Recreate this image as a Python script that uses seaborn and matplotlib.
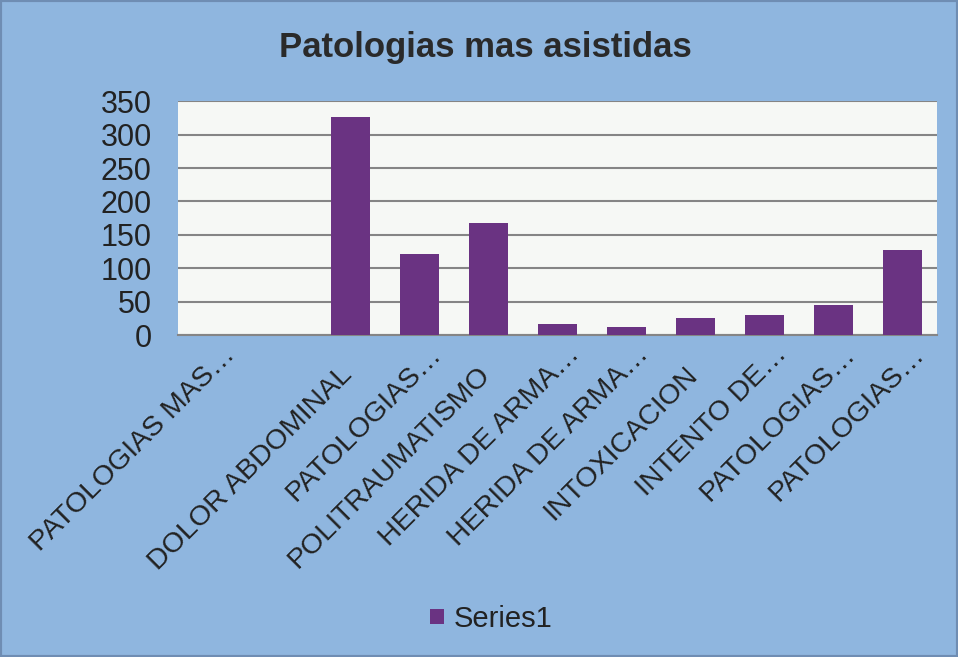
import matplotlib
matplotlib.use("Agg")
import matplotlib.pyplot as plt
import matplotlib.transforms as mtransforms
import seaborn as sns
import pandas as pd
from matplotlib.patches import Patch, Rectangle

categories = ["PATOLOGIAS MAS…", "", "DOLOR ABDOMINAL", "PATOLOGIAS…", "POLITRAUMATISMO",
              "HERIDA DE ARMA…", "HERIDA DE ARMA…", "INTOXICACION", "INTENTO DE…",
              "PATOLOGIAS…", "PATOLOGIAS…"]
values = [0, 0, 326, 121, 167, 16, 12, 25, 30, 45, 127]
y_ticks = [0, 50, 100, 150, 200, 250, 300, 350]
series_name = "Series1"
title = "Patologias mas asistidas"

bg = "#8fb6df"
bar_color = "#6a3382"
label_size = 20.5

sns.set_theme(style="white")
plt.rcParams["font.family"] = ["Liberation Sans", "DejaVu Sans"]

df = pd.DataFrame({"idx": list(range(len(categories))), "value": values})

fig = plt.figure(figsize=(9.58, 6.57), dpi=100, facecolor=bg)
ax = fig.add_axes([0.186, 0.490, 0.792, 0.356])
ax.set_facecolor("#f6f8f5")

sns.barplot(data=df, x="idx", y="value", color=bar_color, width=0.57,
            saturation=1, linewidth=0, ax=ax, zorder=3)

ax.set_xlim(-0.5, len(categories) - 0.5)
ax.set_ylim(0, 350)
ax.set_yticks(y_ticks)
ax.set_yticklabels([str(t) for t in y_ticks], fontsize=22, color="#222222")
ax.set_xticks(range(len(categories)))
ax.set_xticklabels(categories, rotation=45, ha="right", rotation_mode="anchor",
                   fontsize=label_size, color="#222222")
ax.tick_params(axis="y", length=0, pad=19)
ax.tick_params(axis="x", length=0, pad=19)
ax.set_xlabel("")
ax.set_ylabel("")
ax.yaxis.grid(True, color="#858585", linewidth=1.5, zorder=0)
ax.set_axisbelow(True)
for s in ["top", "left", "right"]:
    ax.spines[s].set_visible(False)
ax.spines["bottom"].set_color("#858585")
ax.spines["bottom"].set_linewidth(1.5)

# ellipsis overhangs the anchor point (as in the original chart)
for lab in ax.get_xticklabels():
    txt = lab.get_text()
    dx, dy = -8.0, 0.0
    if txt.endswith("…"):
        d = label_size * 0.707
        dx += d
        dy += d
    off = mtransforms.ScaledTranslation(dx / 72, dy / 72, fig.dpi_scale_trans)
    lab.set_transform(lab.get_transform() + off)

fig.text(0.507, 0.928, title, ha="center", va="center", fontsize=25,
         fontweight="bold", color="#2a2a2a")

handle = Patch(facecolor=bar_color, edgecolor="none")
fig.legend([handle], [series_name], loc="center", bbox_to_anchor=(0.513, 0.058),
           frameon=False, fontsize=21, handlelength=0.45, handleheight=0.45,
           handletextpad=0.35, labelcolor="#222222")

fig.patches.append(Rectangle((0, 0), 1, 1, transform=fig.transFigure, fill=False,
                             edgecolor="#6f8db3", linewidth=3))

fig.savefig("out.png", dpi=100, facecolor=bg)
